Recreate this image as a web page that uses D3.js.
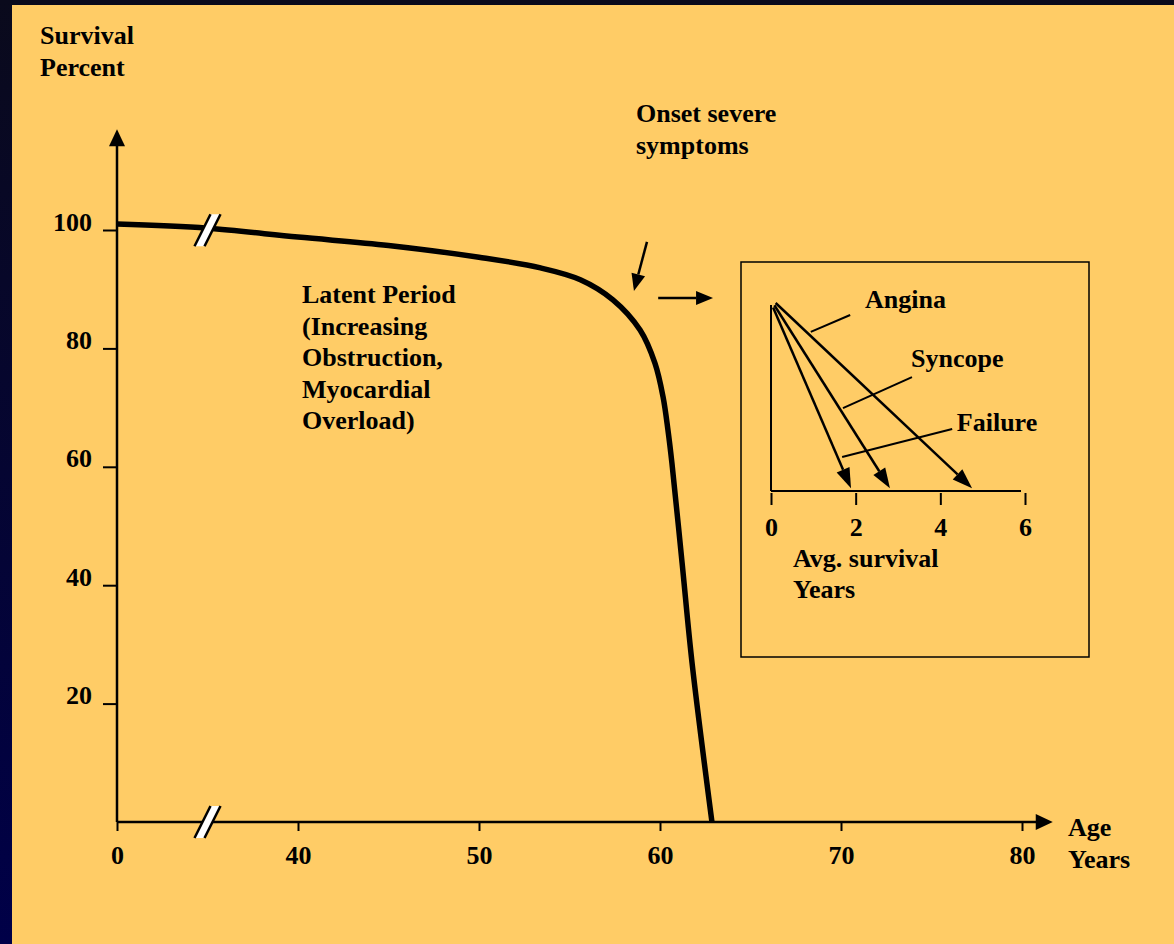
<!DOCTYPE html>
<html><head><meta charset="utf-8">
<script src="https://cdn.jsdelivr.net/npm/d3@7"></script>
<style>
html,body{margin:0;padding:0;background:#000040;overflow:hidden}
text{font-family:"Liberation Serif","Times New Roman",serif;font-weight:bold;fill:#000}
</style></head>
<body>
<script>
// ---- data ----
const ages = [30, 35, 40, 45, 50, 53.4, 55.6, 57.4, 58.9, 59.72, 60.17, 60.44, 60.66, 61.22, 61.77, 62.87];
const survival = [101.0, 100.3, 98.8, 97.4, 95.4, 93.6, 91.6, 88.2, 83.1, 77.5, 71.8, 66.2, 60.6, 43.8, 26.9, 0];
const xTicks = [30, 40, 50, 60, 70, 80];
const xTickLabels = ["0", "40", "50", "60", "70", "80"];
const yTicks = [20, 40, 60, 80, 100];
const yTickLabels = ["20", "40", "60", "80", "100"];
const breakAge = 35;
const latentText = ["Latent Period", "(Increasing", "Obstruction,", "Myocardial", "Overload)"];
// inset
const insetNames = ["Failure", "Syncope", "Angina"];
const insetYears = [1.89, 2.81, 4.75];
const insetTicks = [0, 2, 4, 6];
const insetTickLabels = ["0", "2", "4", "6"];
const insetLabelPos = [[4.39, 32], [3.31, 66], [2.22, 97.5]];
const insetLeaderFrom = [[4.28, 33.0], [3.33, 60.6], [1.87, 93.6]];
const insetLeaderTo = [[1.68, 18.1], [1.70, 44.1], [0.94, 84.6]];

const W = 1174, H = 944;
const svg = d3.select("body").append("svg").attr("width", W).attr("height", H);
const defs = svg.append("defs");
const g0 = defs.append("linearGradient").attr("id","bg").attr("x1",0).attr("y1",0).attr("x2",0).attr("y2",1);
g0.append("stop").attr("offset","0%").attr("stop-color","#0a0a1c");
g0.append("stop").attr("offset","100%").attr("stop-color","#000048");
svg.append("rect").attr("width",W).attr("height",H).attr("fill","url(#bg)");
svg.append("rect").attr("x",12).attr("y",5).attr("width",W-12).attr("height",H-5).attr("fill","#FFCC66");

const x = d3.scaleLinear().domain([30, 80]).range([117, 1022]);
const y = d3.scaleLinear().domain([0, 100]).range([822, 230]);

// axis lines
const axG = svg.append("g");
axG.append("line").attr("x1", x(30)).attr("x2", x(81.7)-14).attr("y1", y(0)).attr("y2", y(0))
  .attr("stroke","#000").attr("stroke-width",2.5);
axG.append("line").attr("x1", x(30)).attr("x2", x(30)).attr("y1", y(0)).attr("y2", y(117)+14)
  .attr("stroke","#000").attr("stroke-width",2.5);
axG.append("path").attr("d", `M${x(81.7)},${y(0)} L${x(81.7)-17},${y(0)-8} L${x(81.7)-17},${y(0)+8}Z`).attr("fill","#000");
axG.append("path").attr("d", `M${x(30)},${y(117)} L${x(30)-8},${y(117)+17} L${x(30)+8},${y(117)+17}Z`).attr("fill","#000");

// x ticks
const xa = d3.axisBottom(x).tickValues(xTicks).tickSize(9).tickPadding(14)
  .tickFormat((d,i)=>xTickLabels[i]);
const xg = svg.append("g").attr("transform",`translate(0,${y(0)})`).call(xa);
xg.select(".domain").remove();
xg.selectAll(".tick line").attr("stroke","#000").attr("stroke-width",2);
xg.selectAll(".tick text").attr("font-size",26).attr("font-family","Liberation Serif").attr("font-weight","bold").attr("fill","#000").attr("dy","0.72em");

// y ticks
const ya = d3.axisLeft(y).tickValues(yTicks).tickSize(14).tickPadding(11)
  .tickFormat((d,i)=>yTickLabels[i]);
const yg = svg.append("g").attr("transform",`translate(${x(30)},0)`).call(ya);
yg.select(".domain").remove();
yg.selectAll(".tick line").attr("stroke","#000").attr("stroke-width",2);
yg.selectAll(".tick text").attr("font-size",26).attr("font-family","Liberation Serif").attr("font-weight","bold").attr("fill","#000").attr("dy","0em");

// curve
const pts = ages.map((a,i)=>[a, survival[i]]);
const line = d3.line().x(d=>x(d[0])).y(d=>y(d[1])).curve(d3.curveCatmullRom.alpha(0.5));
svg.append("path").attr("d", line(pts)).attr("fill","none").attr("stroke","#000").attr("stroke-width",5.5).attr("stroke-linejoin","round");

// break marks
function breakMark(cx, cy){
  const dx = 8, dy = 16, w = 5;
  const gg = svg.append("g");
  gg.append("path").attr("d", `M${cx-dx-w},${cy+dy} L${cx+dx-w},${cy-dy} L${cx+dx+w},${cy-dy} L${cx-dx+w},${cy+dy}Z`)
    .attr("fill","#fff");
  gg.append("line").attr("x1",cx-dx-w).attr("y1",cy+dy).attr("x2",cx+dx-w).attr("y2",cy-dy).attr("stroke","#000").attr("stroke-width",2.5);
  gg.append("line").attr("x1",cx-dx+w).attr("y1",cy+dy).attr("x2",cx+dx+w).attr("y2",cy-dy).attr("stroke","#000").attr("stroke-width",2.5);
}
breakMark(x(breakAge), y(0));
breakMark(x(breakAge), y(100.3)+2);

function txt(sel, xx, yy, s, size=26){
  return sel.append("text").attr("x",xx).attr("y",yy).attr("font-size",size).text(s);
}
txt(svg, 40, 44, "Survival");
txt(svg, 40, 76, "Percent");
txt(svg, 1068, 836, "Age");
txt(svg, 1068, 868, "Years");
txt(svg, 636, 122, "Onset severe");
txt(svg, 636, 154, "symptoms");
latentText.forEach((s,i)=>txt(svg, 302, 303 + i*31.5, s));

function arrow(x1,y1,x2,y2,len=17,hw=7,sw=2.5){
  const ang = Math.atan2(y2-y1, x2-x1);
  const bx = x2 - len*Math.cos(ang), by = y2 - len*Math.sin(ang);
  svg.append("line").attr("x1",x1).attr("y1",y1).attr("x2",bx).attr("y2",by).attr("stroke","#000").attr("stroke-width",sw);
  const px = -Math.sin(ang)*hw, py = Math.cos(ang)*hw;
  svg.append("path").attr("d",`M${x2},${y2} L${bx+px},${by+py} L${bx-px},${by-py}Z`).attr("fill","#000");
}
arrow(x(59.28), y(98.0), x(58.56), y(89.7), 17, 7, 2.5);
arrow(x(59.9), y(88.5), x(62.93), y(88.5), 17, 7, 2.5);

// inset
svg.append("rect").attr("x",741).attr("y",262).attr("width",348).attr("height",395)
  .attr("fill","none").attr("stroke","#000").attr("stroke-width",1.5);
const ix = d3.scaleLinear().domain([0,6]).range([771,1025]);
const iy = d3.scaleLinear().domain([0,100]).range([491,303]);
svg.append("line").attr("x1",ix(0)).attr("x2",ix(0)).attr("y1",iy(0)).attr("y2",iy(99)).attr("stroke","#000").attr("stroke-width",2);
svg.append("line").attr("x1",ix(0)).attr("x2",ix(6)-4).attr("y1",iy(0)).attr("y2",iy(0)).attr("stroke","#000").attr("stroke-width",2);
const ia = d3.axisBottom(ix).tickValues(insetTicks).tickSize(12).tickPadding(12)
  .tickFormat((d,i)=>insetTickLabels[i]);
const ig = svg.append("g").attr("transform",`translate(0,${iy(0)+2})`).call(ia);
ig.select(".domain").remove();
ig.selectAll(".tick line").attr("stroke","#000").attr("stroke-width",2);
ig.selectAll(".tick text").attr("font-size",26).attr("font-family","Liberation Serif").attr("font-weight","bold").attr("fill","#000").attr("dy","0.72em");
txt(svg, 793, 567, "Avg. survival");
txt(svg, 793, 598, "Years");

insetYears.forEach((yr,i)=>{
  arrow(ix(0.05 + i*0.03), iy(100 - (2-i)*1.2), ix(yr), iy(1.5), 20, 7, 2.5);
});
insetNames.forEach((n,i)=>{
  txt(svg, ix(insetLabelPos[i][0]), iy(insetLabelPos[i][1]), n);
  svg.append("line").attr("x1",ix(insetLeaderFrom[i][0])).attr("y1",iy(insetLeaderFrom[i][1]))
    .attr("x2",ix(insetLeaderTo[i][0])).attr("y2",iy(insetLeaderTo[i][1]))
    .attr("stroke","#000").attr("stroke-width",2);
});
</script>
</body></html>
